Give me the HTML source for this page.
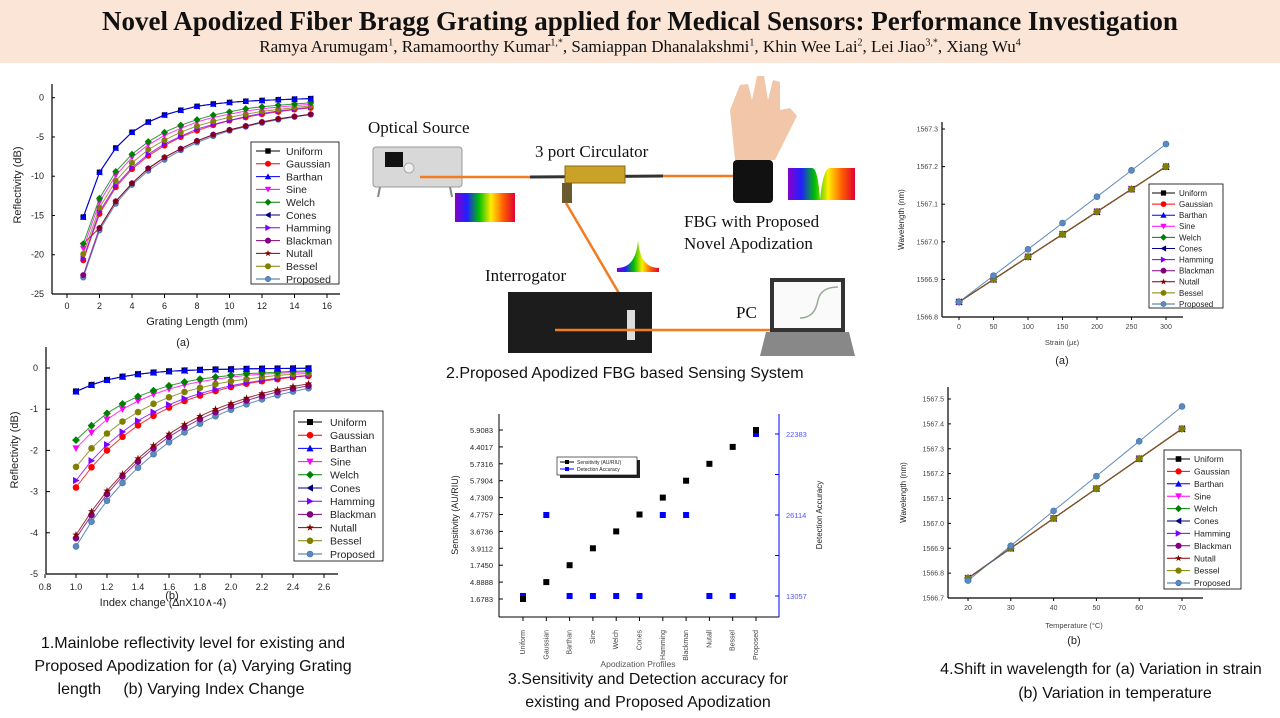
<!DOCTYPE html>
<html><head><meta charset="utf-8"><style>
html,body{margin:0;padding:0;background:#fff;width:1280px;height:718px;overflow:hidden;font-family:"Liberation Sans",sans-serif}
#hdr{position:absolute;left:0;top:0;width:1280px;height:63px;background:#fbe5d6}
#title{position:absolute;left:0;width:1280px;top:6px;text-align:center;font:bold 27px "Liberation Serif",serif;letter-spacing:0px;color:#111}
#authors{position:absolute;left:0;width:1280px;top:37px;text-align:center;font:17px "Liberation Serif",serif;letter-spacing:0px;color:#111}
#authors sup{font-size:10px}
svg{position:absolute;left:0;top:0}
</style></head><body>
<div id="hdr">
<div id="title">Novel Apodized Fiber Bragg Grating applied for Medical Sensors: Performance Investigation</div>
<div id="authors">Ramya Arumugam<sup>1</sup>, Ramamoorthy Kumar<sup>1,*</sup>, Samiappan Dhanalakshmi<sup>1</sup>, Khin Wee Lai<sup>2</sup>, Lei Jiao<sup>3,*</sup>, Xiang Wu<sup>4</sup></div>
</div>
<svg id="main" width="1280" height="718" viewBox="0 0 1280 718">
<defs>
<linearGradient id="rb" x1="0" x2="1"><stop offset="0" stop-color="#8a00c8"/><stop offset="0.2" stop-color="#2020ff"/><stop offset="0.4" stop-color="#00c000"/><stop offset="0.6" stop-color="#ffee00"/><stop offset="0.8" stop-color="#ff6000"/><stop offset="1" stop-color="#e00030"/></linearGradient>
</defs>
<g>
<rect x="373" y="147" width="89" height="40" rx="3" fill="#d8d8d8" stroke="#999"/>
<rect x="385" y="152" width="18" height="15" fill="#111"/>
<circle cx="409" cy="168" r="5" fill="#eee" stroke="#aaa"/>
<line x1="380" y1="187" x2="378" y2="197" stroke="#888" stroke-width="2"/><line x1="450" y1="187" x2="452" y2="197" stroke="#888" stroke-width="2"/>
<rect x="455" y="193" width="60" height="29" fill="url(#rb)"/>
<line x1="420" y1="177" x2="535" y2="177" stroke="#f47b20" stroke-width="2.5"/>
<line x1="530" y1="177" x2="663" y2="176" stroke="#333" stroke-width="3"/>
<rect x="565" y="166" width="60" height="17" fill="#c9a227" stroke="#8a6a10"/>
<rect x="562" y="183" width="10" height="20" fill="#6b5a30"/>
<line x1="566" y1="203" x2="630" y2="312" stroke="#f47b20" stroke-width="2.5"/>
<line x1="663" y1="176" x2="735" y2="176" stroke="#f47b20" stroke-width="2.5"/>
<path d="M735 160 L730 110 L740 85 L748 84 L752 100 L757 76 L764 76 L768 100 L773 80 L780 82 L780 110 L790 108 L797 116 L785 140 L775 160 Z" fill="#f2c6a8"/>
<rect x="733" y="160" width="40" height="43" rx="4" fill="#111"/>
<path d="M788 200 L788 168 L812 168 Q818 168 820 200 Q823 168 830 168 L855 168 L855 200 Z" fill="url(#rb)"/>
<path d="M617 272 L617 268 Q636 268 638 240 Q640 268 659 268 L659 272 Z" fill="url(#rb)"/>
<rect x="508" y="292" width="144" height="61" fill="#1c1c1c"/>
<rect x="627" y="310" width="8" height="30" fill="#ddd"/>
<line x1="555" y1="330" x2="770" y2="330" stroke="#f47b20" stroke-width="2.5"/>
<rect x="770" y="278" width="75" height="54" fill="#333"/>
<rect x="774" y="282" width="67" height="46" fill="#fafafa"/>
<path d="M800 318 Q815 318 818 300 Q821 287 838 287" fill="none" stroke="#9a9" stroke-width="1.5"/>
<polygon points="766,332 849,332 855,356 760,356" fill="#888"/>
<g font-family="Liberation Serif,serif" font-size="17" fill="#111">
<text x="368" y="133">Optical Source</text>
<text x="535" y="157">3 port Circulator</text>
<text x="684" y="227">FBG with Proposed</text>
<text x="684" y="249">Novel Apodization</text>
<text x="485" y="281">Interrogator</text>
<text x="736" y="318">PC</text>
</g>
<text x="446" y="378" font-size="16" fill="#111">2.Proposed Apodized FBG based Sensing System</text>
</g>
<g font-size="16" fill="#111" text-anchor="middle">
<text x="193" y="648">1.Mainlobe reflectivity level for existing and</text>
<text x="193" y="671">Proposed Apodization for (a) Varying Grating</text>
<text x="181" y="694">length &#160;&#160;&#160; (b) Varying Index Change</text>
<text x="648" y="684">3.Sensitivity and Detection accuracy for</text>
<text x="648" y="707">existing and Proposed Apodization</text>
<text x="1101" y="674">4.Shift in wavelength for (a) Variation in strain</text>
<text x="1115" y="698">(b) Variation in temperature</text>
</g>
</svg>
<script>
// ---------- data ----------
const names = ["Uniform","Gaussian","Barthan","Sine","Welch","Cones","Hamming","Blackman","Nutall","Bessel","Proposed"];
const colors = ["#000","#ff0000","#0000ff","#ff00ff","#008000","#000080","#8000ff","#800080","#800000","#808000","#3a6ea5"];
const shapes = ["sq","ci","tu","td","di","tl","tr","ci","st","ci","ci"];

const c1X = [1,2,3,4,5,6,7,8,9,10,11,12,13,14,15];
const c1Top = [-15.2,-9.5,-6.4,-4.4,-3.1,-2.2,-1.6,-1.1,-0.8,-0.6,-0.45,-0.35,-0.25,-0.18,-0.12];
const c1Gaussian = [-20.7,-14.8,-11.4,-9.1,-7.4,-6.1,-5.0,-4.2,-3.5,-2.9,-2.5,-2.1,-1.8,-1.5,-1.3];
const c1Sine = [-19.2,-13.3,-9.9,-7.6,-6.0,-4.8,-3.9,-3.1,-2.5,-2.1,-1.7,-1.4,-1.2,-1.0,-0.85];
const c1Welch = [-18.6,-12.8,-9.4,-7.2,-5.6,-4.4,-3.5,-2.8,-2.2,-1.8,-1.4,-1.15,-0.95,-0.8,-0.65];
const c1Hamming = [-20.5,-14.5,-11.2,-8.9,-7.2,-5.9,-4.9,-4.0,-3.4,-2.9,-2.4,-2.0,-1.7,-1.45,-1.2];
const c1Blackman = [-22.6,-16.6,-13.2,-10.9,-9.0,-7.6,-6.5,-5.5,-4.7,-4.1,-3.6,-3.1,-2.7,-2.4,-2.1];
const c1Nutall = [-18.6,-16.6,-13.2,-10.9,-9.0,-7.6,-6.5,-5.5,-4.7,-4.1,-3.6,-3.1,-2.7,-2.4,-2.1];
const c1Bessel = [-19.9,-14.0,-10.6,-8.3,-6.6,-5.4,-4.4,-3.6,-3.0,-2.5,-2.1,-1.75,-1.5,-1.25,-1.05];
const c1Proposed = [-22.9,-16.9,-13.5,-11.1,-9.3,-7.9,-6.7,-5.7,-4.9,-4.2,-3.7,-3.2,-2.8,-2.45,-2.15];
const c1YTicks = [0,-5,-10,-15,-20,-25];
const c1XTicks = [0,2,4,6,8,10,12,14,16];

const c2X = [1.0,1.1,1.2,1.3,1.4,1.5,1.6,1.7,1.8,1.9,2.0,2.1,2.2,2.3,2.4,2.5];
const c2Top = [-0.57,-0.41,-0.29,-0.21,-0.15,-0.11,-0.08,-0.06,-0.045,-0.035,-0.03,-0.02,-0.015,-0.012,-0.01,-0.008];
const c2Welch = [-1.75,-1.4,-1.1,-0.87,-0.69,-0.55,-0.43,-0.34,-0.27,-0.22,-0.18,-0.14,-0.12,-0.1,-0.08,-0.07];
const c2Sine = [-1.95,-1.57,-1.25,-1.0,-0.8,-0.64,-0.51,-0.41,-0.33,-0.27,-0.22,-0.18,-0.15,-0.13,-0.11,-0.09];
const c2Bessel = [-2.4,-1.95,-1.59,-1.3,-1.07,-0.87,-0.71,-0.58,-0.48,-0.39,-0.32,-0.27,-0.22,-0.18,-0.15,-0.13];
const c2Hamming = [-2.73,-2.25,-1.86,-1.55,-1.28,-1.07,-0.89,-0.74,-0.62,-0.52,-0.43,-0.36,-0.3,-0.25,-0.21,-0.18];
const c2Gaussian = [-2.9,-2.41,-2.0,-1.67,-1.39,-1.16,-0.96,-0.8,-0.67,-0.56,-0.46,-0.38,-0.32,-0.27,-0.22,-0.19];
const c2Nutall = [-4.05,-3.48,-2.98,-2.57,-2.2,-1.88,-1.6,-1.37,-1.17,-1.0,-0.86,-0.73,-0.62,-0.53,-0.45,-0.38];
const c2Blackman = [-4.13,-3.57,-3.06,-2.63,-2.27,-1.95,-1.67,-1.44,-1.24,-1.07,-0.92,-0.79,-0.68,-0.58,-0.5,-0.43];
const c2Proposed = [-4.33,-3.73,-3.22,-2.79,-2.42,-2.09,-1.8,-1.56,-1.35,-1.17,-1.01,-0.88,-0.76,-0.66,-0.57,-0.49];
const c2YTicks = [0,-1,-2,-3,-4,-5];
const c2XTicks = [0.8,1.0,1.2,1.4,1.6,1.8,2.0,2.2,2.4,2.6];

const c3Categories = names;
const c3Sensitivity = [1.6783,4.8888,1.7450,3.9112,3.6736,4.7757,4.7309,5.7904,5.7316,4.4017,5.9083];
const c3SensTicks = ["1.6783","4.8888","1.7450","3.9112","3.6736","4.7757","4.7309","5.7904","5.7316","4.4017","5.9083"];
const c3Accuracy = [13057,26114,13057,13057,13057,13057,26114,26114,13057,13057,22383];
const c3AccTicks = ["13057","","26114","","22383"];

const c4X = [0,50,100,150,200,250,300];
const c4Others = [1566.84,1566.90,1566.96,1567.02,1567.08,1567.14,1567.20];
const c4Proposed = [1566.84,1566.91,1566.98,1567.05,1567.12,1567.19,1567.26];
const c4YTicks = [1566.8,1566.9,1567.0,1567.1,1567.2,1567.3];

const c5X = [20,30,40,50,60,70];
const c5Others = [1566.78,1566.90,1567.02,1567.14,1567.26,1567.38];
const c5Proposed = [1566.77,1566.91,1567.05,1567.19,1567.33,1567.47];
const c5YTicks = [1566.7,1566.8,1566.9,1567.0,1567.1,1567.2,1567.3,1567.4,1567.5];

// ---------- helpers ----------
const NS = "http://www.w3.org/2000/svg";
const root = document.getElementById("main");
function mk(tag, attrs, parent){const e=document.createElementNS(NS,tag);for(const k in attrs)e.setAttribute(k,attrs[k]);(parent||root).appendChild(e);return e;}
function lin(d0,d1,p0,p1){return v=>p0+(v-d0)/(d1-d0)*(p1-p0);}
function txt(s,x,y,size,anchor,parent,extra){const t=mk("text",Object.assign({x:x,y:y,"font-size":size,"text-anchor":anchor||"start",fill:"#222"},extra||{}),parent);t.textContent=s;return t;}
function marker(g,shape,x,y,col,r,fill){
  let e; const f=fill||col;
  if(shape==="sq") e=mk("rect",{x:x-r,y:y-r,width:2*r,height:2*r,fill:f},g);
  else if(shape==="ci") e=mk("circle",{cx:x,cy:y,r:r,fill:f,stroke:col,"stroke-width":0.6},g);
  else if(shape==="tu") e=mk("polygon",{points:`${x},${y-r*1.2} ${x-r*1.2},${y+r} ${x+r*1.2},${y+r}`,fill:f},g);
  else if(shape==="td") e=mk("polygon",{points:`${x},${y+r*1.2} ${x-r*1.2},${y-r} ${x+r*1.2},${y-r}`,fill:f},g);
  else if(shape==="di") e=mk("polygon",{points:`${x},${y-r*1.3} ${x+r*1.3},${y} ${x},${y+r*1.3} ${x-r*1.3},${y}`,fill:f},g);
  else if(shape==="tl") e=mk("polygon",{points:`${x-r*1.2},${y} ${x+r},${y-r*1.2} ${x+r},${y+r*1.2}`,fill:f},g);
  else if(shape==="tr") e=mk("polygon",{points:`${x+r*1.2},${y} ${x-r},${y-r*1.2} ${x-r},${y+r*1.2}`,fill:f},g);
  else { let p=[]; for(let i=0;i<10;i++){const a=-Math.PI/2+i*Math.PI/5;const rr=i%2?r*0.5:r*1.3;p.push((x+rr*Math.cos(a)).toFixed(1)+","+(y+rr*Math.sin(a)).toFixed(1));} e=mk("polygon",{points:p.join(" "),fill:f},g); }
  return e;
}
function drawSeries(g,xs,ys,sx,sy,i,r,lw){
  const pts=xs.map((x,k)=>sx(x).toFixed(1)+","+sy(ys[k]).toFixed(1)).join(" ");
  const pl=mk("polyline",{points:pts,fill:"none",stroke:colors[i],"stroke-width":lw,"stroke-opacity":0.8},g);
  
  
  xs.forEach((x,k)=>{
    const m=marker(g,shapes[i],sx(x),sy(ys[k]),colors[i],r,i===10?"#5b8ac0":null);
    
    
  });
}
function legend(g,x0,x1,tx,y0,dy,size,r){
  const lg=mk("g",{},g);
  
  
  names.forEach((n,i)=>{
    const y=y0+i*dy;
    mk("line",{x1:x0,y1:y,x2:x1,y2:y,stroke:colors[i],"stroke-width":1},lg);
    marker(lg,shapes[i],(x0+x1)/2,y,colors[i],r,i===10?"#5b8ac0":null);
    const t=txt(n,tx,y+size*0.36,size,"start",lg);
    
    
  });
}
function axes(g,ox,oy,xEnd,yTop){
  mk("line",{x1:ox,y1:oy,x2:xEnd,y2:oy,stroke:"#000","stroke-width":1.2},g);
  mk("line",{x1:ox,y1:oy,x2:ox,y2:yTop,stroke:"#000","stroke-width":1.2},g);
}

// ---------- chart 1 ----------
(function(){
  const g=mk("g",{"font-family":"Liberation Sans,sans-serif"});
  
  
  const sx=lin(0,16,67,327), sy=lin(0,-25,97.7,294);
  axes(g,52,294,340,84);
  c1YTicks.forEach(v=>{mk("line",{x1:52,y1:sy(v),x2:55,y2:sy(v),stroke:"#000"},g);txt(String(v),44,sy(v)+3,9,"end",g);});
  c1XTicks.forEach(v=>{mk("line",{x1:sx(v),y1:294,x2:sx(v),y2:298,stroke:"#000"},g);txt(String(v),sx(v),309,9,"middle",g);});
  const t1=txt("Grating Length (mm)",197,325,11,"middle",g);  
  const t2=txt("Reflectivity (dB)",21,185,11,"middle",g,{transform:"rotate(-90 21 185)"});  
  txt("(a)",183,346,11,"middle",g);
  const ser=[c1Top,c1Gaussian,c1Top,c1Sine,c1Welch,c1Top,c1Hamming,c1Blackman,c1Nutall,c1Bessel,c1Proposed];
  [10,7,8,1,6,9,3,4,0,5,2].forEach(i=>drawSeries(g,c1X,ser[i],sx,sy,i,2.7,1));
  mk("rect",{x:251,y:142,width:88,height:142,fill:"#fff",stroke:"#000","stroke-width":0.8},g);
  legend(g,256,280,286,151,12.8,10.5,2.7);
})();

// ---------- chart 2 ----------
(function(){
  const g=mk("g",{"font-family":"Liberation Sans,sans-serif"});
  
  
  const sx=lin(1.0,2.6,76,324), sy=lin(0,-5,368,574);
  axes(g,46,574,338,347);
  c2YTicks.forEach(v=>{mk("line",{x1:46,y1:sy(v),x2:50,y2:sy(v),stroke:"#000"},g);txt(String(v),38,sy(v)+3,9,"end",g);});
  c2XTicks.forEach(v=>{mk("line",{x1:sx(v),y1:574,x2:sx(v),y2:578,stroke:"#000"},g);txt(v.toFixed(1),sx(v),590,9,"middle",g);});
  const t1=txt("Index change (\u2206nX10\u2227-4)",163,606,11,"middle",g);  
  const t2=txt("Reflectivity (dB)",18,450,11,"middle",g,{transform:"rotate(-90 18 450)"});  
  txt("(b)",172,599,11,"middle",g);
  const ser=[c2Top,c2Gaussian,c2Top,c2Sine,c2Welch,c2Top,c2Hamming,c2Blackman,c2Nutall,c2Bessel,c2Proposed];
  [10,7,8,1,6,9,3,4,0,5,2].forEach(i=>drawSeries(g,c2X,ser[i],sx,sy,i,3,1));
  mk("rect",{x:294,y:411,width:89,height:150,fill:"#fff",stroke:"#000","stroke-width":0.8},g);
  legend(g,298,322,330,422,13.2,10.5,3);
})();

// ---------- chart 3 ----------
(function(){
  const g=mk("g",{"font-family":"Liberation Sans,sans-serif"});
  
  
  const sx=i=>523+i*23.3;
  const syL=v=>599-c3SensTicks.indexOf(v.toFixed(4))*16.9;
  const accLevels=[13057,0,26114,0,22383];
  const syR=v=>596-accLevels.indexOf(v)*40.5;
  mk("line",{x1:499,y1:617,x2:779,y2:617,stroke:"#000"},g);
  mk("line",{x1:499,y1:617,x2:499,y2:414,stroke:"#000"},g);
  mk("line",{x1:779,y1:617,x2:779,y2:414,stroke:"#00f"},g);
  c3SensTicks.forEach((s,k)=>{const y=599-k*16.9;mk("line",{x1:499,y1:y,x2:503,y2:y,stroke:"#000"},g);txt(s,493,y+3,7.5,"end",g);});
  c3AccTicks.forEach((s,k)=>{const y=596-k*40.5;mk("line",{x1:775,y1:y,x2:779,y2:y,stroke:"#00f"},g);if(s)txt(s,786,y+3,7.5,"start",g,{fill:"#55f"});});
  c3Categories.forEach((c,i)=>{mk("line",{x1:sx(i),y1:617,x2:sx(i),y2:621,stroke:"#000"},g);txt(c,sx(i)+2,630,7,"end",g,{transform:`rotate(-90 ${sx(i)+2} 630)`,fill:"#444"});});
  const t1=txt("Apodization Profiles",638,667,8.5,"middle",g,{fill:"#555"});  
  const t2=txt("Sensitivity (AU/RIU)",458,515,9,"middle",g,{transform:"rotate(-90 458 515)"});  
  const t3=txt("Detection Accuracy",822,515,8,"middle",g,{transform:"rotate(-90 822 515)"});  
  c3Accuracy.forEach((v,i)=>{const m=mk("rect",{x:sx(i)-3,y:syR(v)-3,width:6,height:6,fill:"#00f"},g);});
  c3Sensitivity.forEach((v,i)=>{const m=mk("rect",{x:sx(i)-3,y:syL(v)-3,width:6,height:6,fill:"#000"},g);});
  const lg=mk("g",{},g);  
  mk("rect",{x:560,y:460,width:80,height:18,fill:"#222"},lg);
  mk("rect",{x:557,y:457,width:80,height:18,fill:"#fff",stroke:"#000","stroke-width":0.6},lg);
  mk("line",{x1:560,y1:462,x2:574,y2:462,stroke:"#000"},lg);mk("rect",{x:565,y:460,width:4,height:4,fill:"#000"},lg);
  mk("line",{x1:560,y1:469,x2:574,y2:469,stroke:"#00f"},lg);mk("rect",{x:565,y:467,width:4,height:4,fill:"#00f"},lg);
  txt("Sensitivity (AU/RIU)",577,464,5,"start",lg);txt("Detection Accuracy",577,471,5,"start",lg);
})();

// ---------- chart 4 & 5 ----------
function wlChart(name,xs,others,prop,yTicks,x0,x1,xv0,xv1,yv0,yv1,y0,y1,ox,oy,xEnd,yTop,xTicks,xTitle,xtx,xty,lab,labY,yTitleX,lgBox,lgArgs){
  const g=mk("g",{"font-family":"Liberation Sans,sans-serif"});
  
  
  const sx=lin(xv0,xv1,x0,x1), sy=lin(yv0,yv1,y0,y1);
  axes(g,ox,oy,xEnd,yTop);
  yTicks.forEach(v=>{mk("line",{x1:ox,y1:sy(v),x2:ox+3,y2:sy(v),stroke:"#000"},g);txt(v.toFixed(1),ox-4,sy(v)+2.5,7,"end",g,{fill:"#444"});});
  xTicks.forEach(v=>{mk("line",{x1:sx(v),y1:oy,x2:sx(v),y2:oy+3,stroke:"#000"},g);txt(String(v),sx(v),oy+12,7,"middle",g,{fill:"#444"});});
  const t1=txt(xTitle,xtx,xty,7.5,"middle",g,{fill:"#444"});  
  const cy=(oy+yTop)/2;
  const t2=txt("Wavelength (nm)",yTitleX,cy,8,"middle",g,{transform:`rotate(-90 ${yTitleX} ${cy})`});  
  txt(lab,xtx,labY,11,"middle",g);
  [0,1,2,3,4,5,6,7,8,9].forEach(i=>drawSeries(g,xs,others,sx,sy,i,3,1));
  drawSeries(g,xs,prop,sx,sy,10,3,1);
  mk("rect",Object.assign({fill:"#fff",stroke:"#000","stroke-width":0.8},lgBox),g);
  legend(g,...lgArgs);
}
wlChart("chart-wavelength-vs-strain",c4X,c4Others,c4Proposed,c4YTicks,959,1166,0,300,1566.8,1567.3,317,129,942,317,1183,122,c4X,"Strain (\u03bc\u03b5)",1062,345,"(a)",364,904,{x:1149,y:184,width:74,height:124},[1152,1175,1179,193,11.1,8,2.6]);
wlChart("chart-wavelength-vs-temperature",c5X,c5Others,c5Proposed,c5YTicks,968,1182,20,70,1566.7,1567.5,598,399,948,598,1203,387,c5X,"Temperature (\u00b0C)",1074,628,"(b)",644,906,{x:1164,y:450,width:77,height:139},[1167,1190,1194,459,12.4,8.5,2.8]);
</script>
</body></html>
